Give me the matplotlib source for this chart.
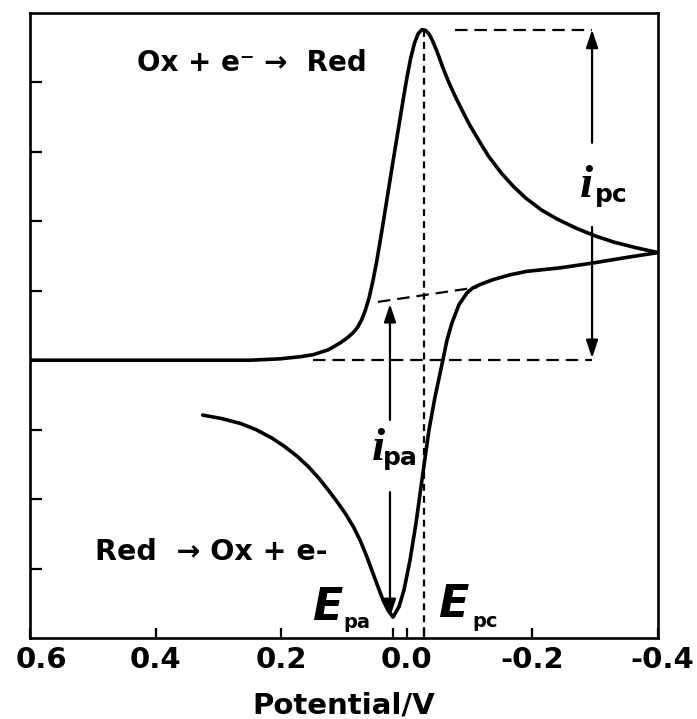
import matplotlib
matplotlib.use('Agg')
import matplotlib.pyplot as plt
from matplotlib.transforms import ScaledTranslation

plt.rcParams['lines.scale_dashes'] = False

# Forward (cathodic) sweep: potential (V) and current (arb. units)
fwd_E = [0.600, 0.409, 0.250, 0.202, 0.170, 0.149, 0.125, 0.106, 0.095, 0.085,
         0.078, 0.072, 0.066, 0.060, 0.054, 0.048, 0.042, 0.036, 0.030, 0.022,
         0.014, 0.006, 0.000, -0.006, -0.012, -0.018, -0.024, -0.030, -0.036,
         -0.042, -0.050, -0.058, -0.066, -0.076, -0.088, -0.100, -0.115, -0.130,
         -0.150, -0.170, -0.190, -0.215, -0.240, -0.270, -0.300, -0.330, -0.365,
         -0.400]
fwd_i = [0.00, 0.00, 0.00, 0.02, 0.05, 0.08, 0.15, 0.25, 0.32, 0.40,
         0.48, 0.58, 0.72, 0.90, 1.14, 1.42, 1.74, 2.07, 2.41, 2.86,
         3.30, 3.74, 4.06, 4.34, 4.56, 4.70, 4.76, 4.75, 4.69,
         4.58, 4.40, 4.20, 4.02, 3.82, 3.60, 3.39, 3.16, 2.94,
         2.70, 2.50, 2.33, 2.16, 2.03, 1.90, 1.79, 1.70, 1.62,
         1.55]

# Reverse (anodic) sweep
rev_E = [-0.400, -0.350, -0.2965, -0.244, -0.1914, -0.1643, -0.1373, -0.1166,
         -0.105, -0.0959, -0.0831, -0.0720, -0.064, -0.0576, -0.0513, -0.0449,
         -0.0354, -0.0242, -0.0146, -0.0051, 0.0045, 0.0124, 0.0220, 0.030,
         0.038, 0.046, 0.055, 0.064, 0.074, 0.085, 0.097, 0.110, 0.125, 0.140,
         0.157, 0.175, 0.195, 0.215, 0.240, 0.265, 0.295, 0.325]
rev_i = [1.55, 1.48, 1.40, 1.33, 1.28, 1.23, 1.16, 1.09,
         1.04, 0.97, 0.80, 0.54, 0.29, 0.01, -0.26, -0.53,
         -1.00, -1.72, -2.35, -2.88, -3.31, -3.55, -3.70, -3.60,
         -3.45, -3.26, -3.04, -2.82, -2.60, -2.40, -2.22, -2.05, -1.87, -1.70,
         -1.53, -1.38, -1.24, -1.12, -1.00, -0.91, -0.84, -0.79]

x_ticks = [0.6, 0.4, 0.2, 0.0, -0.2, -0.4]
x_labels = ['0.6', '0.4', '0.2', '0.0', '-0.2', '-0.4']
y_ticks = [-3, -2, -1, 0, 1, 2, 3, 4]

E_pa = 0.022
E_pc = -0.028
i_pc_peak = 4.76
i_pa_peak = -3.70
baseline_c = 0.0
base_a_E = [0.046, -0.112]
base_a_i = [0.84, 1.05]

fig = plt.figure(figsize=(6.97, 7.19), dpi=100)
ax = fig.add_axes([30/697, 1-638/719, 628/697, 625/719])

ax.plot(fwd_E, fwd_i, color='black', lw=2.6, solid_joinstyle='round', solid_capstyle='round', zorder=3)
ax.plot(rev_E, rev_i, color='black', lw=2.6, solid_joinstyle='round', solid_capstyle='round', zorder=3)

dash = (0, (9.0, 5.0))
dot = (0, (5.0, 3.6))
ipc_x = -0.295
ipa_x = 0.0268
# horizontal dashed guides
ax.plot([-0.077, ipc_x], [i_pc_peak, i_pc_peak], color='k', lw=1.6, ls=dash)
ax.plot([0.149, ipc_x], [baseline_c, baseline_c], color='k', lw=1.6, ls=dash)
ax.plot(base_a_E, base_a_i, color='k', lw=1.6, ls=dash)
# vertical dotted at E_pc
ax.plot([E_pc, E_pc], [i_pc_peak, -4.0], color='k', lw=1.6, ls=dot)

ap = dict(arrowstyle='-|>,head_length=0.6,head_width=0.2', color='k', lw=1.6,
          mutation_scale=18, shrinkA=0, shrinkB=0)
ax.annotate('', xy=(ipc_x, i_pc_peak), xytext=(ipc_x, 3.13), arrowprops=ap)
ax.annotate('', xy=(ipc_x, baseline_c + 0.03), xytext=(ipc_x, 1.92), arrowprops=ap)
ax.annotate('', xy=(ipa_x, 0.81), xytext=(ipa_x, -0.86), arrowprops=ap)
ax.annotate('', xy=(ipa_x, i_pa_peak), xytext=(ipa_x, -1.90), arrowprops=ap)

sans = 'DejaVu Sans'
ax.text(0.430, 4.16, 'Ox + e\u207b \u2192  Red', fontsize=20, fontweight='bold', family=sans,
        ha='left', va='baseline')
ax.text(0.4965, -2.876, 'Red  \u2192 Ox + e-', fontsize=20.5, fontweight='bold', family=sans,
        ha='left', va='baseline')

ax.text(0.151, -3.74, 'E', fontsize=32, fontweight='bold', style='italic', family=sans,
        ha='left', va='baseline')
ax.text(0.1016, -3.86, 'pa', fontsize=14, fontweight='bold', family=sans, ha='left', va='baseline')
ax.text(-0.0497, -3.70, 'E', fontsize=32, fontweight='bold', style='italic', family=sans,
        ha='left', va='baseline')
ax.text(-0.1038, -3.84, 'pc', fontsize=14, fontweight='bold', family=sans, ha='left', va='baseline')

serif = 'Liberation Serif'
ax.text(-0.2758, 2.35, 'i', fontsize=34, fontweight='bold', style='italic', family=serif,
        ha='left', va='baseline')
ax.text(-0.2997, 2.28, 'pc', fontsize=18, fontweight='bold', family=sans, ha='left', va='baseline')
ax.text(0.0554, -1.44, 'i', fontsize=34, fontweight='bold', style='italic', family=serif,
        ha='left', va='baseline')
ax.text(0.0379, -1.51, 'pa', fontsize=18, fontweight='bold', family=sans, ha='left', va='baseline')

ax.set_xlim(0.6, -0.4)
ax.set_ylim(-4, 5)
ax.set_xticks(x_ticks)
ax.set_xticklabels(x_labels, fontsize=21, fontweight='bold', family=sans)
ax.set_xticks([E_pa, E_pc], minor=True)
ax.set_yticks(y_ticks)
ax.set_yticklabels([])
ax.tick_params(axis='x', which='major', direction='in', length=7, width=1.6, pad=6)
ax.tick_params(axis='x', which='minor', direction='in', length=7, width=1.6)
ax.tick_params(axis='y', which='major', direction='in', length=8.5, width=1.6)
for s in ax.spines.values():
    s.set_linewidth(1.9)

labels = ax.get_xticklabels()
labels[0].set_transform(labels[0].get_transform() + ScaledTranslation(11/100, 0, fig.dpi_scale_trans))
labels[-1].set_transform(labels[-1].get_transform() + ScaledTranslation(4/100, 0, fig.dpi_scale_trans))

ax.set_xlabel('Potential/V', fontsize=21, fontweight='bold', family=sans)
ax.xaxis.label.set_va('baseline')
ax.xaxis.set_label_coords(0.5, (638-713)/625)

fig.savefig('out.png', dpi=100)
